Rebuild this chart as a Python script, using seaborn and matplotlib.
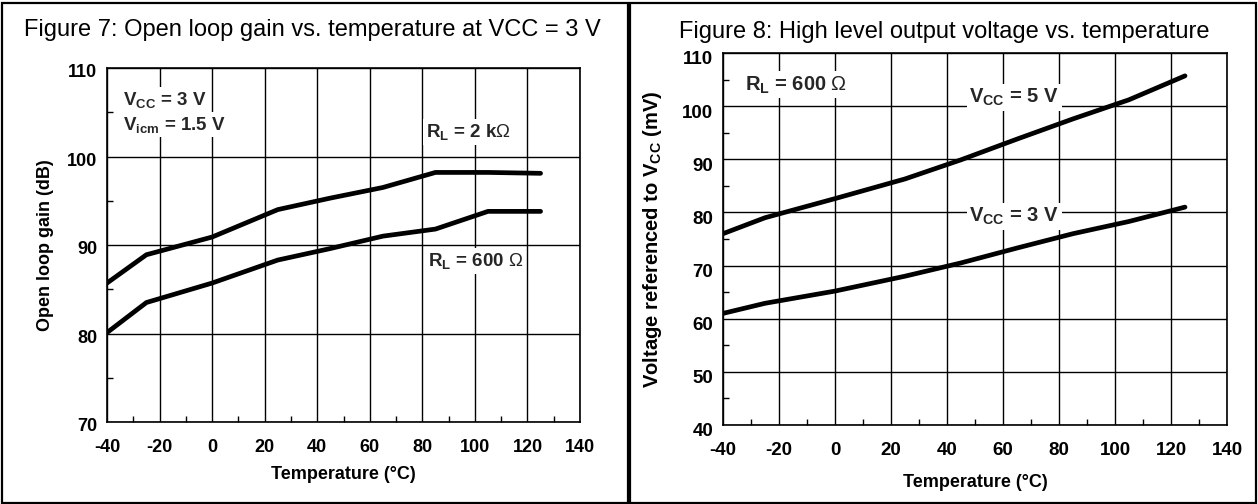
import numpy as np
import pandas as pd
import seaborn as sns
import matplotlib.pyplot as plt
import matplotlib.transforms as mtransforms
from matplotlib.patches import Rectangle
from matplotlib.ticker import AutoMinorLocator

# data
temp = [-40, -25, 0, 25, 45, 65, 85, 105, 125]
gain_2k = [85.7, 88.9, 90.9, 94.0, 95.3, 96.5, 98.2, 98.2, 98.1]
gain_600 = [80.1, 83.5, 85.7, 88.3, 89.6, 91.0, 91.8, 93.8, 93.8]
voh_5v = [76.0, 79.0, 82.6, 86.3, 89.9, 93.8, 97.6, 101.2, 105.7]
voh_3v = [61.0, 62.9, 65.2, 68.0, 70.5, 73.3, 76.0, 78.3, 81.0]

x_ticks = np.arange(-40, 141, 20)

sns.set_theme(style='white')
plt.rcParams['font.family'] = ['Liberation Sans', 'DejaVu Sans']
plt.rcParams['axes.unicode_minus'] = False
plt.rcParams['mathtext.fontset'] = 'custom'
plt.rcParams['mathtext.rm'] = 'Liberation Sans'
plt.rcParams['mathtext.bf'] = 'Liberation Sans:bold'
plt.rcParams['mathtext.it'] = 'Liberation Sans:italic'

df7 = pd.DataFrame({'T': temp * 2,
                    'G': gain_2k + gain_600,
                    's': ['2k'] * len(temp) + ['600'] * len(temp)})
df8 = pd.DataFrame({'T': temp * 2,
                    'V': voh_5v + voh_3v,
                    's': ['5V'] * len(temp) + ['3V'] * len(temp)})

fig = plt.figure(figsize=(12.58, 5.04), dpi=100)
ax1 = fig.add_axes([107/1258, 1-422/504, 473/1258, 354/504])
ax2 = fig.add_axes([723/1258, 1-425/504, 504/1258, 372/504])


def style_axis(ax, ylim, yticks, fs, ydrop):
    ax.set_xlim(-40, 140)
    ax.set_ylim(*ylim)
    ax.set_xticks(x_ticks)
    ax.set_yticks(yticks)
    ax.xaxis.set_minor_locator(AutoMinorLocator(2))
    ax.yaxis.set_minor_locator(AutoMinorLocator(2))
    ax.grid(True, which='major', color='black', linewidth=1.0)
    ax.tick_params(which='major', length=0)
    ax.tick_params(axis='x', which='major', pad=12)
    ax.tick_params(axis='y', which='major', pad=7)
    ax.tick_params(which='minor', direction='in', length=4.5, width=1.0,
                   color='black', bottom=True, left=True)
    shift = mtransforms.ScaledTranslation(0, -ydrop/100, fig.dpi_scale_trans)
    for t in ax.get_xticklabels() + ax.get_yticklabels():
        t.set_fontweight('bold')
        t.set_fontsize(fs)
        t.set_color('black')
    for t in ax.get_yticklabels():
        t.set_transform(t.get_transform() + shift)
    for sp in ax.spines.values():
        sp.set_edgecolor('black')
        sp.set_linewidth(1.2)
    ax.set_axisbelow(True)


sns.lineplot(data=df7, x='T', y='G', hue='s', palette=['black', 'black'],
             linewidth=3.4, legend=False, ax=ax1, zorder=4)
style_axis(ax1, (70, 110), np.arange(70, 111, 10), 13, 3)
ax1.set_xlabel('Temperature (°C)', fontsize=13, fontweight='bold', color='black')
ax1.set_ylabel('Open loop gain (dB)', fontsize=13, fontweight='bold', color='black')
ax1.xaxis.set_label_coords(0.5, -0.124)
ax1.yaxis.set_label_coords(-0.112, 0.5)

box = dict(facecolor='white', edgecolor='none', pad=2)
ax1.text(-34, 106.4, r'V$_\mathbf{CC}$ = 3 V', fontsize=13.5, fontweight='bold',
         va='center', ha='left', bbox=box, zorder=3)
ax1.text(-34, 103.6, r'V$_\mathbf{icm}$ = 1.5 V', fontsize=13.5, fontweight='bold',
         va='center', ha='left', bbox=box, zorder=3)
ax1.text(81.5, 102.8, r'R$_\mathbf{L}$ = 2 k$\Omega$', fontsize=13.5, fontweight='bold',
         va='center', ha='left', bbox=box, zorder=3)
ax1.text(82, 88.2, r'R$_\mathbf{L}$ = 600 $\Omega$', fontsize=13.5, fontweight='bold',
         va='center', ha='left', bbox=box, zorder=3)

sns.lineplot(data=df8, x='T', y='V', hue='s', palette=['black', 'black'],
             linewidth=3.4, legend=False, ax=ax2, zorder=4)
style_axis(ax2, (40, 110), np.arange(40, 111, 10), 13.5, 5)
ax2.set_xlabel('Temperature (°C)', fontsize=13, fontweight='bold', color='black')
ax2.set_ylabel(r'Voltage referenced to V$_\mathbf{CC}$ (mV)', fontsize=14.5,
               fontweight='bold', color='black')
ax2.xaxis.set_label_coords(0.5, -0.132)
ax2.yaxis.set_label_coords(-0.118, 0.5)

ax2.text(-32, 104.0, r'R$_\mathbf{L}$ = 600 $\Omega$', fontsize=14.5, fontweight='bold',
         va='center', ha='left', bbox=box, zorder=3)
ax2.text(48, 101.7, r'V$_\mathbf{CC}$ = 5 V', fontsize=14.5, fontweight='bold',
         va='center', ha='left', bbox=box, zorder=3)
ax2.text(48, 79.3, r'V$_\mathbf{CC}$ = 3 V', fontsize=14.5, fontweight='bold',
         va='center', ha='left', bbox=box, zorder=3)

fig.text(24/1258, 1-36/504, 'Figure 7: Open loop gain vs. temperature at VCC = 3 V',
         fontsize=17, va='baseline', ha='left', color='black')
fig.text(679/1258, 1-38/504, 'Figure 8: High level output voltage vs. temperature',
         fontsize=17, va='baseline', ha='left', color='black')

fig.patches.append(Rectangle((2/1258, 1/504), 626/1258, 500/504, transform=fig.transFigure,
                             fill=False, edgecolor='black', linewidth=1.6))
fig.patches.append(Rectangle((630/1258, 1/504), 626/1258, 500/504, transform=fig.transFigure,
                             fill=False, edgecolor='black', linewidth=1.6))

plt.savefig('out.png', dpi=100)
